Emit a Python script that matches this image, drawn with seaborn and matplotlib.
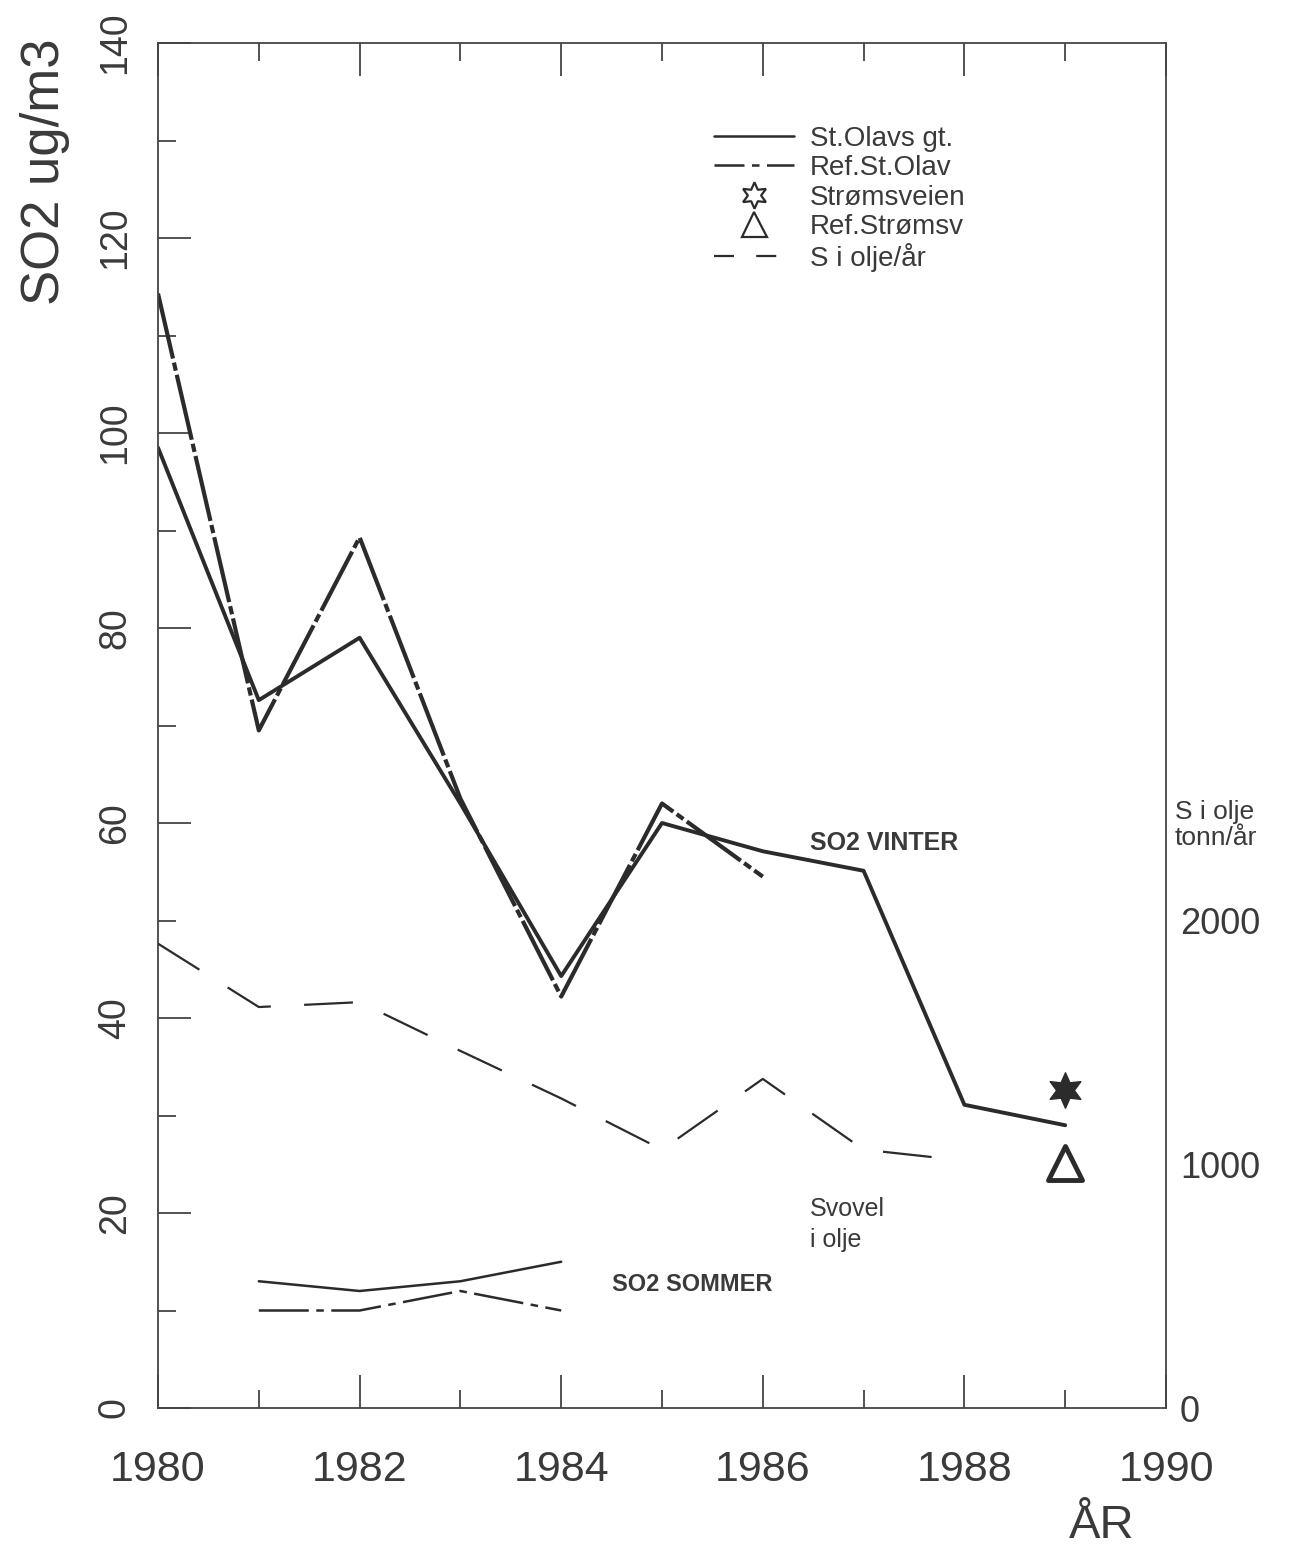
import numpy as np
import pandas as pd
import matplotlib
matplotlib.use("Agg")
import matplotlib.pyplot as plt
from matplotlib.lines import Line2D
from matplotlib.ticker import MultipleLocator
import seaborn as sns

# ---------------- data ----------------
years_winter_st = [1980, 1981, 1982, 1983, 1984, 1985, 1986, 1987, 1988, 1989]
winter_st_olav = [98.5, 72.6, 79.0, 62.0, 44.3, 60.0, 57.1, 55.1, 31.1, 29.0]

years_winter_ref = [1980, 1981, 1982, 1983, 1984, 1985, 1986]
winter_ref_olav = [114.3, 69.5, 89.3, 62.5, 42.2, 62.0, 54.5]

years_summer = [1981, 1982, 1983, 1984]
summer_st_olav = [13.0, 12.0, 13.0, 15.0]
summer_ref_olav = [10.0, 10.0, 12.0, 10.0]

years_oil = [1980, 1981, 1982, 1983, 1984, 1985, 1986, 1987, 1988]
s_in_oil_tonn = [1905, 1645, 1665, 1465, 1270, 1060, 1350, 1060, 1015]

year_stroms = [1989]
stromsveien = [32.6]
ref_stromsv = [25.1]

legend_labels = ["St.Olavs gt.", "Ref.St.Olav", "Strømsveien", "Ref.Strømsv", "S i olje/år"]
x_ticklabels = ["1980", "1982", "1984", "1986", "1988", "1990"]
y_ticklabels = ["0", "20", "40", "60", "80", "100", "120", "140"]
right_ticks = [0, 1000, 2000]

TONN_PER_UNIT = 40.0  # right axis scale: 2000 tonn aligns with 50 ug/m3

# ---------------- style ----------------
sns.set_style("ticks")
plt.rcParams['font.family'] = ['Liberation Sans', 'DejaVu Sans']
ink = "#2b2b2b"
txt = "#3a3a3a"
plt.rcParams['text.color'] = txt

fig = plt.figure(figsize=(13.15, 15.53), dpi=100)
ax = fig.add_axes([158/1315, 1 - 1408/1553, (1166-158)/1315, (1408-43)/1553])

df_ws = pd.DataFrame({"year": years_winter_st, "so2": winter_st_olav})
df_wr = pd.DataFrame({"year": years_winter_ref, "so2": winter_ref_olav})
df_ss = pd.DataFrame({"year": years_summer, "so2": summer_st_olav})
df_sr = pd.DataFrame({"year": years_summer, "so2": summer_ref_olav})
df_oil = pd.DataFrame({"year": years_oil, "tonn": s_in_oil_tonn})

sns.lineplot(data=df_ws, x="year", y="so2", ax=ax, color=ink, lw=2.8, linestyle="-")
sns.lineplot(data=df_wr, x="year", y="so2", ax=ax, color=ink, lw=3.0,
             linestyle=(0, (16, 1.0, 2, 1.0)))
sns.lineplot(data=df_ss, x="year", y="so2", ax=ax, color=ink, lw=1.8, linestyle="-")
sns.lineplot(data=df_sr, x="year", y="so2", ax=ax, color=ink, lw=1.8,
             linestyle=(0, (20, 3, 3, 3)))

star_df = pd.DataFrame({"year": year_stroms, "so2": stromsveien})
tri_df = pd.DataFrame({"year": year_stroms, "so2": ref_stromsv})
sns.scatterplot(data=star_df, x="year", y="so2", ax=ax, marker=(6, 1, 0), s=650,
                color=ink, edgecolor=ink, linewidth=1, zorder=5)
sns.scatterplot(data=tri_df, x="year", y="so2", ax=ax, marker="^", s=600,
                facecolor="white", edgecolor=ink, linewidth=3.5, zorder=5)

ax.set_xlim(1980, 1990)
ax.set_ylim(0, 140)

# ticks
ax.xaxis.set_minor_locator(MultipleLocator(1))
ax.yaxis.set_minor_locator(MultipleLocator(10))
ax.set_xticks([1980, 1982, 1984, 1986, 1988, 1990])
ax.set_xticklabels(x_ticklabels, fontsize=31, color=txt)
ax.set_yticks([0, 20, 40, 60, 80, 100, 120, 140])
ax.set_yticklabels(y_ticklabels, fontsize=27, color=txt, rotation=90, va="center")
ax.tick_params(axis="both", which="major", direction="in", length=24, width=1.3,
               color="#444444", top=True, right=True, bottom=True, left=True)
ax.tick_params(axis="both", which="minor", direction="in", length=13, width=1.3,
               color="#444444", top=True, right=True, bottom=True, left=True)
ax.tick_params(axis="x", which="major", pad=30)
ax.tick_params(axis="y", which="major", pad=18)
for sp in ax.spines.values():
    sp.set_color("#444444")
    sp.set_linewidth(1.3)

ax.set_xlabel("")
ax.set_ylabel("")
fig.text(45/1315, 1 - 172/1553, "SO2 ug/m3", fontsize=38, color=txt, rotation=90,
         ha="center", va="center")

# right axis (tonn/år)
ax2 = ax.twinx()
sns.lineplot(data=df_oil, x="year", y="tonn", ax=ax2, color=ink, lw=1.6,
             linestyle=(0, (22, 15)))
ax2.set_ylim(0, 140 * TONN_PER_UNIT)
ax2.set_yticks(right_ticks)
ax2.set_yticklabels([str(v) for v in right_ticks], fontsize=26, color=txt)
ax2.tick_params(axis="y", length=0, pad=10)
ax2.set_ylabel("")
for sp in ax2.spines.values():
    sp.set_visible(False)

# annotations
ax.text(1990.09, 59.8, "S i olje\ntonn/år", fontsize=19, color=txt, ha="left",
        va="center", linespacing=1.15, clip_on=False)
ax.text(1986.47, 58.0, "SO2 VINTER", fontsize=18, color=txt, ha="left", va="center",
        fontweight="bold")
ax.text(1986.47, 21.6, "Svovel\ni olje", fontsize=18, color=txt, ha="left", va="top",
        linespacing=1.35)
ax.text(1984.5, 12.7, "SO2 SOMMER", fontsize=17, color=txt, ha="left", va="center",
        fontweight="bold")
fig.text(1102/1315, 1 - 1526/1553, "ÅR", fontsize=34, color=txt, ha="center", va="center")

# legend
handles = [
    Line2D([], [], color=ink, lw=1.8, linestyle="-"),
    Line2D([], [], color=ink, lw=1.8, linestyle=(0, (12, 3, 3, 3))),
    Line2D([], [], color=ink, lw=0, marker=(6, 1, 0), markersize=19,
           markerfacecolor="white", markeredgecolor=ink, markeredgewidth=1.6),
    Line2D([], [], color=ink, lw=0, marker="^", markersize=18,
           markerfacecolor="white", markeredgecolor=ink, markeredgewidth=1.6),
    Line2D([], [], color=ink, lw=1.6, linestyle=(0, (9, 10))),
]
leg = ax.legend(handles, legend_labels, loc="upper left",
                bbox_to_anchor=(700/1315, 1 - 112/1553), bbox_transform=fig.transFigure,
                frameon=False, fontsize=20, handlelength=2.9, handletextpad=0.55,
                labelspacing=0.12, borderpad=0, numpoints=1)
for t in leg.get_texts():
    t.set_color(txt)

fig.savefig("out.png", dpi=100, facecolor="white")
